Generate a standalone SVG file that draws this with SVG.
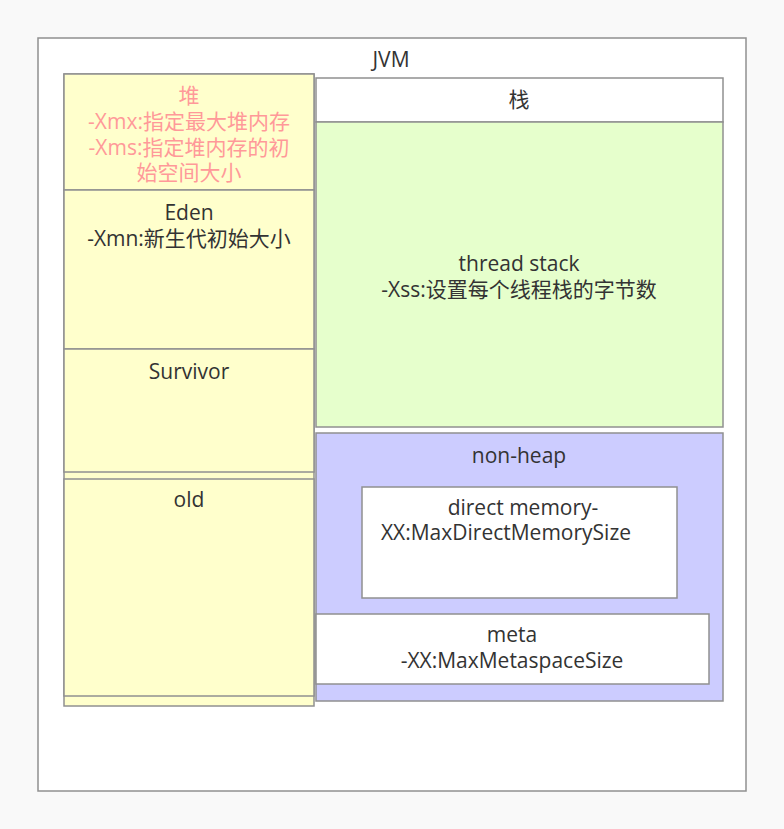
<svg xmlns="http://www.w3.org/2000/svg" width="784" height="829" viewBox="0 0 784 829">
<style>
rect{stroke:#909090;stroke-width:1.5}
text{font-family:"Open Sans","Noto Sans CJK SC",sans-serif;font-size:21px;fill:#333;text-anchor:middle}
.heap{fill:#ff9999}
.y{fill:#ffffcc}
.w{fill:#ffffff}
</style>
<rect x="0" y="0" width="784" height="829" style="fill:#f9f9f9;stroke:none"/>
<g id="jvm">
<rect x="38" y="38" width="708" height="753" class="w"/>
<text x="391" y="67">JVM</text>
</g>
<g id="heap">
<rect x="64" y="74" width="250" height="632" class="y"/>
<rect x="64" y="74" width="250" height="116" class="y"/>
<text class="heap" x="189" y="103">堆</text>
<text class="heap" x="189" y="129">-Xmx:指定最大堆内存</text>
<text class="heap" x="189" y="155">-Xms:指定堆内存的初</text>
<text class="heap" x="189" y="180">始空间大小</text>
</g>
<g id="eden">
<rect x="64" y="190" width="250" height="159" class="y"/>
<text x="189" y="220">Eden</text>
<text x="189" y="246">-Xmn:新生代初始大小</text>
</g>
<g id="survivor">
<rect x="64" y="349" width="250" height="123" class="y"/>
<text x="189" y="379">Survivor</text>
</g>
<g id="old">
<rect x="64" y="479" width="250" height="217" class="y"/>
<text x="189" y="507">old</text>
</g>
<g id="stack">
<rect x="316" y="78" width="407" height="44" class="w"/>
<text x="519" y="107">栈</text>
</g>
<g id="thread-stack">
<rect x="316" y="122" width="407" height="305" style="fill:#e6ffcc"/>
<text x="519" y="271">thread stack</text>
<text x="519" y="297">-Xss:设置每个线程栈的字节数</text>
</g>
<g id="non-heap">
<rect x="316" y="433" width="407" height="268" style="fill:#ccccff"/>
<text x="519" y="463">non-heap</text>
</g>
<g id="direct-memory">
<rect x="362" y="487" width="315" height="111" class="w"/>
<text x="523" y="515">direct memory-</text>
<text x="506" y="540">XX:MaxDirectMemorySize</text>
</g>
<g id="meta">
<rect x="316" y="614" width="393" height="70" class="w"/>
<text x="512" y="642">meta</text>
<text x="512" y="668">-XX:MaxMetaspaceSize</text>
</g>
<g id="connectors"></g>
</svg>
